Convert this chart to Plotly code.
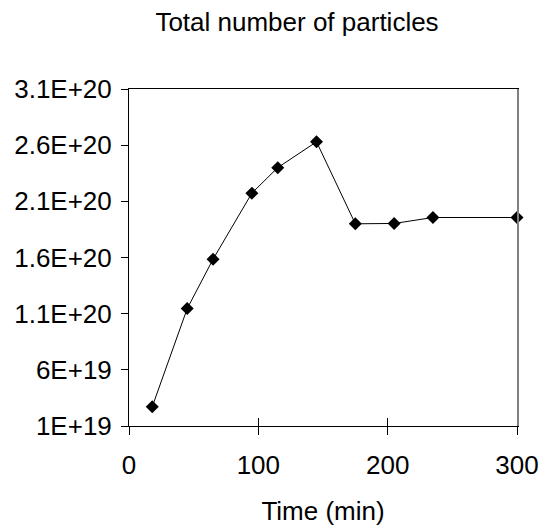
import plotly.graph_objects as go

time_min = [18, 45, 65, 95, 115, 145, 175, 205, 235, 300]
particles = [2.72e19, 1.145e20, 1.585e20, 2.173e20, 2.40e20, 2.63e20, 1.90e20, 1.903e20, 1.956e20, 1.956e20]

y_tickvals = [1e19, 6e19, 1.1e20, 1.6e20, 2.1e20, 2.6e20, 3.1e20]
y_ticktext = ["1E+19", "6E+19", "1.1E+20", "1.6E+20", "2.1E+20", "2.6E+20", "3.1E+20"]
x_tickvals = [0, 100, 200, 300]

FONT = "Liberation Sans, Arial, sans-serif"
FS = 26

fig = go.Figure()
fig.add_trace(go.Scatter(
    x=time_min, y=particles, mode="lines+markers",
    line=dict(color="black", width=1),
    marker=dict(symbol="diamond", size=10, color="black"),
    showlegend=False, cliponaxis=False,
))
# invisible trace on overlay axes so inner tick marks and the right border render
fig.add_trace(go.Scatter(x=[0, 300], y=[1e19, 1e19], xaxis="x2", yaxis="y2",
                         mode="markers", marker=dict(opacity=0), showlegend=False,
                         hoverinfo="skip"))

fig.update_layout(
    width=540, height=526,
    margin=dict(l=129, r=23, t=89, b=100),
    paper_bgcolor="white", plot_bgcolor="white",
    font=dict(family=FONT, size=FS, color="black"),
    title=dict(text="Total number of particles", x=297 / 540, xanchor="center",
               xref="container", y=1 - 22 / 526, yanchor="middle", yref="container",
               font=dict(family=FONT, size=FS, color="black")),
    xaxis=dict(range=[0, 300], tickvals=x_tickvals, ticks="outside", ticklen=8,
               tickcolor="black", showline=True, linecolor="black", linewidth=1,
               mirror=True, showgrid=False, zeroline=False, automargin=False,
               tickfont=dict(size=FS), ticklabelstandoff=8,
               title=dict(text="Time (min)", font=dict(size=FS), standoff=26)),
    xaxis2=dict(range=[0, 300], overlaying="x", tickvals=x_tickvals, ticks="inside",
                ticklen=8, tickcolor="black", showticklabels=False, showline=False,
                showgrid=False, zeroline=False, side="bottom", automargin=False),
    yaxis=dict(range=[1e19, 3.1e20], tickvals=y_tickvals, ticktext=y_ticktext,
               ticks="outside", ticklen=7, tickcolor="black", showline=True,
               linecolor="black", linewidth=1, mirror=False, showgrid=False,
               zeroline=False, tickfont=dict(size=FS), ticklabelstandoff=4,
               automargin=False),
    yaxis2=dict(range=[1e19, 3.1e20], overlaying="y", side="right", showline=True,
                linecolor="#808080", linewidth=2, showticklabels=False, ticks="",
                showgrid=False, zeroline=False, automargin=False),
)
fig.write_html(
    "out.html",
    config={"displayModeBar": False},
    post_script="document.body.style.margin='0px';document.body.style.overflow='hidden';",
)
